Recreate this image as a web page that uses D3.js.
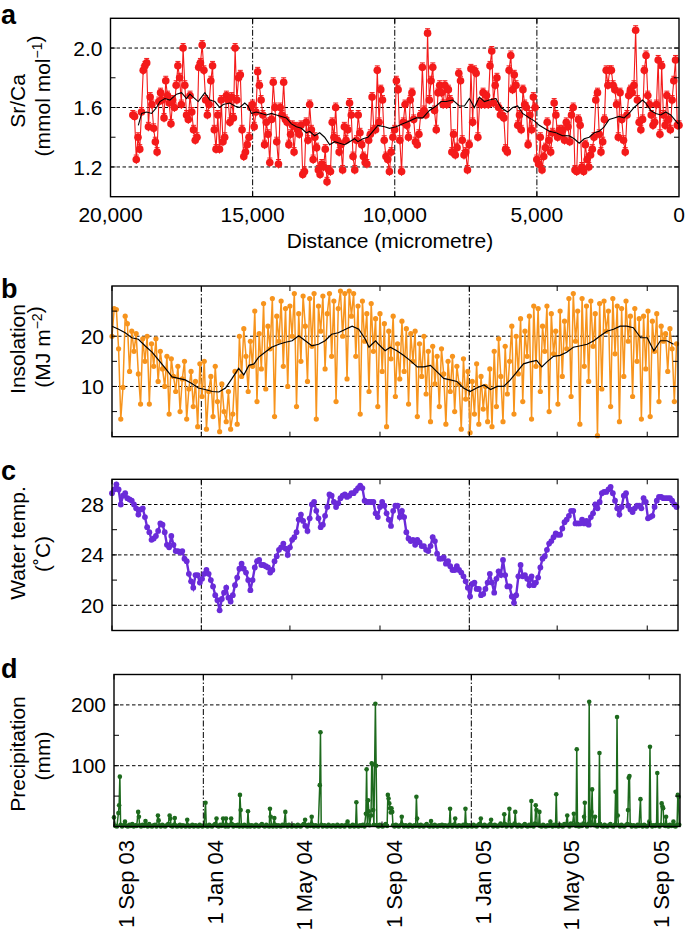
<!DOCTYPE html>
<html><head><meta charset="utf-8">
<script src="https://cdn.jsdelivr.net/npm/d3@7"></script>
<style>body{margin:0;background:#fff}svg{display:block}text{font-family:"Liberation Sans",Arial,Helvetica,sans-serif;fill:#000}</style>
</head><body><svg id="chart" width="685" height="930"></svg>
<script>
// ---------- DATA ----------
// Panel a: Sr/Ca (mmol/mol) vs distance (micrometre); distances listed ascending, values listed from 19,215 down to 0
const srcaDistanceAsc = [
0,61,122,183,244,305,366,427,488,549,610,671,732,793,854,915,976,1037,1098,1159,
1220,1281,1342,1403,1464,1525,1586,1647,1708,1769,1830,1891,1952,2013,2074,2135,2196,2257,2318,2379,
2440,2501,2562,2623,2684,2745,2806,2867,2928,2989,3050,3111,3172,3233,3294,3355,3416,3477,3538,3599,
3660,3721,3782,3843,3904,3965,4026,4087,4148,4209,4270,4331,4392,4453,4514,4575,4636,4697,4758,4819,
4880,4941,5002,5063,5124,5185,5246,5307,5368,5429,5490,5551,5612,5673,5734,5795,5856,5917,5978,6039,
6100,6161,6222,6283,6344,6405,6466,6527,6588,6649,6710,6771,6832,6893,6954,7015,7076,7137,7198,7259,
7320,7381,7442,7503,7564,7625,7686,7747,7808,7869,7930,7991,8052,8113,8174,8235,8296,8357,8418,8479,
8540,8601,8662,8723,8784,8845,8906,8967,9028,9089,9150,9211,9272,9333,9394,9455,9516,9577,9638,9699,
9760,9821,9882,9943,10004,10065,10126,10187,10248,10309,10370,10431,10492,10553,10614,10675,10736,10797,10858,10919,
10980,11041,11102,11163,11224,11285,11346,11407,11468,11529,11590,11651,11712,11773,11834,11895,11956,12017,12078,12139,
12200,12261,12322,12383,12444,12505,12566,12627,12688,12749,12810,12871,12932,12993,13054,13115,13176,13237,13298,13359,
13420,13481,13542,13603,13664,13725,13786,13847,13908,13969,14030,14091,14152,14213,14274,14335,14396,14457,14518,14579,
14640,14701,14762,14823,14884,14945,15006,15067,15128,15189,15250,15311,15372,15433,15494,15555,15616,15677,15738,15799,
15860,15921,15982,16043,16104,16165,16226,16287,16348,16409,16470,16531,16592,16653,16714,16775,16836,16897,16958,17019,
17080,17141,17202,17263,17324,17385,17446,17507,17568,17629,17690,17751,17812,17873,17934,17995,18056,18117,18178,18239,
18300,18361,18422,18483,18544,18605,18666,18727,18788,18849,18910,18971,19032,19093,19154,19215];
const srcaValue = [
1.55,1.54,1.25,1.40,1.32,1.57,1.85,1.88,1.90,1.47,1.67,1.62,1.46,1.37,1.30,1.64,1.70,1.65,1.53,1.78,
1.68,1.63,1.49,1.65,1.60,1.75,1.88,1.80,1.62,2.00,1.75,1.55,1.52,1.68,1.57,1.45,1.38,1.40,1.87,1.90,
2.02,1.85,1.65,1.55,1.62,1.78,1.88,1.45,1.32,1.55,1.32,1.65,1.37,1.40,1.68,1.65,1.50,1.67,1.53,2.00,
1.65,1.80,1.82,1.45,1.27,1.30,1.35,1.40,1.60,1.62,1.47,1.57,1.84,1.75,1.65,1.55,1.35,1.50,1.42,1.23,
1.52,1.77,1.60,1.37,1.22,1.60,1.55,1.77,1.52,1.50,1.35,1.42,1.48,1.30,1.47,1.45,1.42,1.48,1.15,1.17,
1.50,1.38,1.62,1.45,1.25,1.40,1.33,1.18,1.15,1.22,1.20,1.32,1.10,1.18,1.17,1.50,1.40,1.60,1.38,1.30,
1.35,1.18,1.47,1.38,1.45,1.63,1.55,1.27,1.18,1.38,1.55,1.43,1.35,1.27,1.23,1.22,1.38,1.42,1.67,1.45,
1.45,1.85,1.50,1.72,1.65,1.38,1.27,1.25,1.17,1.30,1.40,1.45,1.78,1.72,1.38,1.17,1.50,1.62,1.48,1.40,
1.65,1.70,1.52,1.37,1.35,1.42,1.55,1.87,1.58,1.55,2.10,1.65,1.78,1.87,1.58,1.45,1.70,1.75,1.70,1.62,
1.75,1.62,1.72,1.65,1.30,1.42,1.28,1.33,1.83,1.78,1.38,1.28,1.30,1.18,1.35,1.86,1.50,1.85,1.83,1.40,
1.63,1.62,1.70,1.62,1.68,1.62,1.88,1.98,1.63,1.75,1.80,1.60,1.55,1.55,1.53,1.32,1.30,1.85,1.95,1.72,
1.82,1.75,1.48,1.55,1.45,1.72,1.62,1.60,1.35,1.55,1.45,1.67,1.60,1.25,1.22,1.40,1.18,1.27,1.33,1.50,
1.38,1.30,1.43,1.63,1.55,1.40,1.45,1.42,1.45,1.38,1.50,1.47,1.37,1.55,1.60,1.18,1.17,1.52,1.48,1.20,
1.17,1.35,1.25,1.20,1.28,1.32,1.40,1.65,1.70,1.42,1.30,1.37,1.52,1.85,1.75,1.85,1.85,1.75,1.72,1.62,
1.40,1.70,1.52,1.38,1.30,1.55,1.68,1.72,1.70,1.75,2.12,1.65,1.50,1.45,1.52,1.85,1.95,1.68,1.62,1.55,
1.48,1.50,1.62,1.92,1.42,1.88,1.55,1.48,1.68,1.52,1.45,1.65,1.78,1.92,1.48,1.48];
const srcaErrorHalf = 0.03;
const srcaMeanDistance = [19022,18905,18730,18554,18378,18261,18086,17910,17676,17500,17325,17208,17032,16915,16798,16681,16505,16330,16154,16037,
15803,15627,15452,15276,15159,15042,14866,14691,14515,14340,14164,13988,13813,13637,13461,13286,13110,12993,12818,12642,
12467,12291,12115,11940,11764,11588,11413,11296,11120,10945,10769,10593,10359,10184,9950,9716,9481,9247,9013,8779,
8545,8369,8194,7959,7725,7550,7374,7199,7023,6847,6672,6438,6262,6028,5852,5677,5501,5267,5091,4916,
4740,4565,4330,4096,3862,3687,3511,3335,3160,2984,2808,2633,2457,2282,2106,1931,1755,1579,1404,1287,
1170,994,819,643,467,292,116,23];
const srcaMean = [1.48,1.56,1.57,1.56,1.60,1.64,1.66,1.65,1.69,1.70,1.66,1.69,1.66,1.64,1.67,1.70,1.65,1.64,1.60,1.62,
1.63,1.61,1.60,1.63,1.61,1.56,1.57,1.56,1.55,1.56,1.55,1.54,1.53,1.49,1.47,1.46,1.43,1.44,1.41,1.43,
1.40,1.35,1.37,1.36,1.35,1.37,1.39,1.37,1.39,1.40,1.44,1.48,1.47,1.46,1.47,1.49,1.51,1.53,1.53,1.58,
1.61,1.64,1.64,1.65,1.61,1.61,1.66,1.60,1.67,1.64,1.65,1.66,1.60,1.57,1.60,1.61,1.56,1.53,1.51,1.48,
1.46,1.44,1.43,1.41,1.41,1.39,1.36,1.39,1.40,1.43,1.44,1.47,1.52,1.53,1.54,1.53,1.56,1.60,1.63,1.65,
1.63,1.58,1.56,1.55,1.57,1.55,1.51,1.49];
const distanceTicks = [20000,15000,10000,5000,0];
const distanceGrid = [15000,10000,5000];

// Panels b-d: days since 1 Sep 2003
const startDateStr = "2003-09-01";
const endDateStr = "2005-10-13";
const sampleDay = [0,3,6,9,12,15,18,21,24,27,30,33,36,39,42,45,48,51,54,57,60,63,66,69,72,75,78,81,84,87,90,93,96,99,102,105,108,111,114,117,120,123,126,129,132,135,138,141,144,147,150,153,156,159,162,165,168,171,174,177,180,183,186,189,192,195,198,201,204,207,210,213,216,219,222,225,228,231,234,237,240,243,246,249,252,255,258,261,264,267,270,273,276,279,282,285,288,291,294,297,300,303,306,309,312,315,318,321,324,327,330,333,336,339,342,345,348,351,354,357,360,363,366,369,372,375,378,381,384,387,390,393,396,399,402,405,408,411,414,417,420,423,426,429,432,435,438,441,444,447,450,453,456,459,462,465,468,471,474,477,480,483,486,489,492,495,498,501,504,507,510,513,516,519,522,525,528,531,534,537,540,543,546,549,552,555,558,561,564,567,570,573,576,579,582,585,588,591,594,597,600,603,606,609,612,615,618,621,624,627,630,633,636,639,642,645,648,651,654,657,660,663,666,669,672,675,678,681,684,687,690,693,696,699,702,705,708,711,714,717,720,723,726,729,732,735,738,741,744,747,750,753,756,759,762,765,768,771];
const insolation = [
20.0,25.5,25.3,17.5,3.5,9.8,24.0,22.5,13.0,21.0, 17.0,20.5,12.5,6.5,19.5,15.0,20.0,6.5,18.5,14.0,
19.5,11.0,17.0,13.5,10.0,16.0,4.5,15.5,12.0,9.0, 14.0,5.0,11.5,15.0,3.5,9.5,13.0,6.0,11.0,2.0,
14.5,8.0,15.0,1.5,9.0,12.0,4.0,14.0,7.0,1.0, 10.5,5.0,3.0,9.0,1.5,4.5,13.0,2.5,20.0,12.0,
21.5,16.0,9.0,19.0,14.0,25.0,7.0,20.5,13.5,26.5, 9.5,22.0,17.5,27.5,4.0,24.0,19.0,27.0,14.0,25.5,
10.0,26.0,20.0,28.5,6.0,24.5,15.0,28.0,22.0,11.0, 27.5,18.0,28.5,3.5,26.0,21.0,28.0,13.5,24.5,28.5,
16.0,27.0,7.0,25.5,29.0,20.0,28.5,11.5,29.0,24.0, 28.5,16.0,26.0,4.5,27.0,19.0,24.5,9.0,26.5,17.0,
23.5,6.0,24.5,13.0,22.5,2.0,21.0,15.5,24.0,8.0, 18.5,11.5,23.0,13.0,21.5,6.5,20.5,15.0,21.0,4.0,
18.5,12.0,20.0,8.5,17.0,3.0,18.0,10.5,16.0,6.0, 17.5,12.5,2.5,15.0,9.0,16.0,5.0,14.0,10.5,1.5,
15.5,7.5,13.0,0.8,11.0,4.5,14.5,2.5,12.0,5.5, 10.0,3.0,13.5,2.0,17.0,6.0,19.5,12.0,3.0,18.0,
8.5,15.0,22.0,4.5,20.0,12.5,23.5,7.0,21.0,16.0, 24.0,3.5,26.0,14.0,25.5,9.0,22.0,17.0,26.0,5.0,
24.5,16.5,21.0,6.5,25.0,12.0,23.0,17.5,27.5,8.0, 28.5,19.0,25.0,2.5,27.5,14.0,26.0,11.0,27.0,18.0,
24.5,0.2,26.5,9.5,27.0,21.0,25.0,6.0,27.5,16.5, 26.0,3.0,25.5,12.0,27.0,19.0,24.0,8.0,25.5,15.0,
23.5,3.5,24.0,13.5,25.0,4.0,23.0,17.0,24.5,7.0, 22.0,19.0,20.5,13.0,21.5,17.5,7.0,18.5];
const insolMeanDay = [0,9,18,27,36,45,55,64,73,82,91,100,109,118,127,137,146,155,164,173,180,187,194,200,209,218,228,237,246,255,264,273,282,291,300,309,319,328,337,346,351,355,360,364,373,380,389,398,407,417,426,435,444,453,462,471,480,489,498,508,517,526,535,544,553,562,571,580,587,594,603,612,621,630,640,649,658,667,676,685,694,703,712,722,731,740,749,758,767];
const insolMean = [22.0,21.4,20.7,19.7,19.4,18.1,16.8,15.2,13.6,11.9,11.6,11.3,10.6,9.7,9.4,9.0,8.9,9.7,11.6,13.6,12.3,14.2,14.5,15.8,16.8,17.8,18.4,18.8,19.1,20.1,19.1,18.1,18.4,19.1,20.4,20.7,21.4,22.0,21.4,19.4,17.8,18.4,19.1,18.4,17.1,17.8,17.1,16.2,15.2,13.9,13.9,14.2,12.9,11.6,11.3,11.0,9.7,9.0,9.7,10.3,9.4,10.0,10.0,11.3,12.9,14.5,14.9,15.2,13.9,14.9,16.0,16.2,16.8,17.8,18.1,18.4,19.1,20.1,21.0,21.4,22.0,22.0,21.7,19.7,19.7,17.1,19.1,19.1,18.4];
const waterTemp = [
28.9,29.2,29.6,29.2,28.0,28.7,28.9,28.5,28.4,28.3, 28.0,27.7,27.2,27.6,27.7,27.0,26.2,25.8,25.2,25.3,
25.5,25.9,26.5,26.4,25.8,24.8,24.6,25.5,24.8,24.3, 24.3,24.2,24.3,23.7,23.5,22.5,21.9,21.4,22.4,22.4,
21.8,22.1,22.5,22.8,22.5,22.0,21.5,20.8,20.4,19.6, 20.5,21.0,21.4,20.6,20.3,20.8,21.6,22.2,22.9,23.3,
22.9,22.6,22.0,21.2,22.0,23.0,23.5,23.6,23.2,23.2, 23.1,23.0,22.6,22.8,23.5,23.9,24.4,24.6,24.9,24.5,
24.0,24.6,25.2,25.4,25.8,26.8,27.2,26.7,26.3,25.9, 26.9,28.0,28.2,27.5,26.9,26.2,26.4,27.1,27.8,28.8,
28.7,28.2,27.8,28.1,28.5,28.7,28.8,28.6,28.7,28.9, 28.9,29.1,29.3,29.5,29.3,28.3,28.2,28.2,28.2,28.2,
27.3,27.0,27.8,28.2,27.9,27.3,26.8,26.3,27.5,27.9, 27.9,27.0,27.5,27.0,25.8,25.3,25.1,25.2,24.8,25.2,
25.0,24.7,24.7,24.4,24.3,24.7,25.4,25.1,24.1,23.7, 23.7,23.8,23.3,23.5,23.1,22.8,22.8,23.1,22.8,22.6,
22.3,21.9,21.4,20.7,21.7,21.8,21.3,21.3,20.8,20.9, 21.3,21.8,22.5,21.8,21.0,22.1,22.7,22.4,23.6,22.4,
21.5,21.5,20.7,20.2,20.8,22.3,23.2,22.3,22.4,22.1, 21.6,22.3,21.6,21.8,22.2,23.0,23.7,23.9,24.4,24.9,
25.1,25.4,25.7,25.6,25.6,26.1,26.6,26.8,27.1,27.5, 27.5,26.5,26.5,26.5,26.8,26.5,26.7,26.4,27.0,27.3,
28.0,27.7,28.2,28.9,29.0,29.0,29.2,29.4,28.9,28.3, 27.7,27.2,27.8,28.7,28.9,27.9,27.6,27.4,27.7,27.9,
27.9,27.7,28.5,28.2,26.9,27.0,27.1,27.8,28.3,28.6, 28.6,28.5,28.5,28.5,28.5,28.3,28.0,27.8];
const precipDay = [
0,2,4,6,7,8,9,11,13,15, 17,19,21,23,25,27,29,31,33,34, 35,37,39,41,43,44,46,48,50,52, 54,56,58,60,61,62,64,66,68,70,
72,74,76,77,78,80,82,83,84,86, 88,90,92,94,96,98,100,101,103,105, 107,109,111,113,115,117,119,121,123,125, 126,128,130,132,134,136,138,140,141,143,
145,147,149,150,152,153,154,156,158,160, 161,163,165,167,169,171,172,173,174,176, 178,180,182,183,184,186,188,190,192,194, 196,198,200,202,204,206,208,210,212,213,
214,215,217,219,220,222,224,226,228,230, 232,234,235,237,239,241,243,245,247,249, 251,253,255,257,259,261,262,264,266,268, 270,271,273,275,277,279,281,282,283,285,
287,289,291,293,295,297,299,301,303,305, 307,309,311,313,315,317,319,320,322,324, 326,328,330,331,332,334,336,338,340,342, 344,345,346,347,348,349,351,352,353,354,
355,357,358,359,361,363,365,367,369,371, 373,374,375,376,377,378,379,380,381,383, 385,387,389,391,393,394,396,398,400,402, 404,406,408,410,412,413,414,415,417,419,
421,423,425,427,429,431,433,434,436,438, 440,442,444,446,448,450,452,454,456,458, 459,460,462,464,466,467,469,471,473,475, 477,479,480,481,483,485,487,489,491,493,
495,497,499,501,502,504,506,508,510,512, 514,515,516,518,520,522,524,526,528,530, 532,533,534,536,538,540,541,543,545,547, 548,549,551,553,555,557,559,561,563,565,
567,569,570,571,573,575,576,577,578,580, 581,582,584,586,588,590,592,594,596,597, 599,601,603,604,605,607,609,611,613,615, 617,619,620,622,624,626,628,629,631,632,
633,635,637,639,641,642,643,644,646,648, 649,650,651,652,653,654,656,657,658,660, 662,663,664,666,668,670,672,674,676,678, 680,682,684,685,686,687,688,689,691,693,
695,697,699,701,702,703,704,705,707,709, 711,713,715,717,719,720,722,724,726,728, 730,731,732,733,735,737,739,741,742,743, 745,747,748,749,750,751,753,754,755,757,
759,761,763,764,765,767,769,770,771,772];
const precipMm = [
15,1,0,22,35,82,3,0,2,8, 1,0,3,1,4,0,2,1,24,16, 2,0,3,1,9,2,0,4,1,0, 2,3,0,18,10,2,0,3,1,0,
2,4,18,13,1,0,3,14,2,0, 1,3,0,2,1,0,11,2,0,1, 3,0,2,1,0,3,1,0,2,39, 1,0,3,1,0,2,4,13,1,0,
3,1,13,2,0,13,3,0,2,13, 4,0,2,1,3,0,52,27,2,0, 3,1,0,25,3,0,2,1,0,3, 1,0,2,4,1,0,3,1,0,29,
16,2,0,14,3,0,2,1,0,3, 1,24,2,0,3,1,0,2,1,0, 3,1,0,2,4,11,2,0,3,1, 16,3,0,2,1,0,68,155,3,0,
2,1,0,3,1,0,2,1,0,3, 1,0,2,1,0,3,8,2,0,1, 3,0,2,40,1,0,2,1,3,0, 21,94,3,43,25,2,18,104,102,27,
3,202,100,2,0,3,1,0,2,4, 1,52,46,38,30,23,30,24,2,0, 3,1,0,2,16,3,0,2,1,0, 3,1,0,2,1,49,13,2,0,3,
1,0,2,4,1,0,9,2,0,3, 1,0,2,1,3,0,2,1,0,3, 29,2,0,3,13,1,0,2,1,0, 3,1,29,3,0,2,1,0,3,1,
0,2,4,13,2,0,3,1,0,2, 4,11,2,0,3,1,0,2,5,1, 3,20,4,0,2,29,3,0,2,5, 24,2,0,3,1,0,2,4,1,0,
3,1,42,3,0,5,35,27,3,2, 24,1,0,3,1,0,2,1,8,2, 0,3,1,53,2,0,3,1,0,4, 2,18,3,0,5,2,21,3,1,127,
4,0,3,1,5,16,39,3,0,4, 205,8,2,24,61,3,2,16,2,0, 3,121,4,1,0,3,1,0,2,4, 1,0,3,57,2,180,18,2,0,3,
1,0,2,4,27,80,83,3,0,2, 1,0,3,1,45,2,0,3,1,0, 2,8,131,3,0,2,1,3,88,2, 0,3,38,33,30,2,1,16,2,0,
3,1,2,8,1,0,3,52,49,3];
const dateTicks = ["2003-09-01","2004-01-01","2004-05-01","2004-09-01","2005-01-01","2005-05-01","2005-09-01"];
const dateTickLabels = ["1 Sep 03","1 Jan 04","1 May 04","1 Sep 04","1 Jan 05","1 May 05","1 Sep 05"];
const dateGrid = ["2004-01-01","2005-01-01"];

// ---------- CHECKS ----------
const srcaDistance = srcaDistanceAsc.slice().reverse();
[[srcaDistance,srcaValue,"srca"],[srcaMeanDistance,srcaMean,"srcaMean"],[sampleDay,insolation,"insol"],[sampleDay,waterTemp,"temp"],[insolMeanDay,insolMean,"insolMean"],[precipDay,precipMm,"precip"]]
 .forEach(([a,b,n])=>{ if(a.length!==b.length) throw new Error(n+" length mismatch "+a.length+" vs "+b.length); });

// ---------- DRAW ----------
const svg = d3.select("#chart");
const parse = d3.timeParse("%Y-%m-%d");
const start = parse(startDateStr), end = parse(endDateStr);
const dayToDate = d => d3.timeDay.offset(start, d);

const boxA = {l:110.5, r:679, t:18.3, b:196.7};
const boxB = {l:112, r:678, t:286, b:436.7};
const boxC = {l:112, r:678, t:479.3, b:630.5};
const boxD = {l:114, r:680, t:674.5, b:826.5};

const FS = 21;

function hGrid(box, y, vals){
  svg.append("g").selectAll("line").data(vals).join("line")
    .attr("x1",box.l).attr("x2",box.r).attr("y1",d=>y(d)).attr("y2",d=>y(d))
    .attr("stroke","#000").attr("stroke-width",1).attr("stroke-dasharray","3.5,2.5");
}
function vGrid(box, x, vals){
  svg.append("g").selectAll("line").data(vals).join("line")
    .attr("y1",box.t).attr("y2",box.b).attr("x1",d=>x(d)).attr("x2",d=>x(d))
    .attr("stroke","#000").attr("stroke-width",1).attr("stroke-dasharray","6,2,1.5,2");
}
function frame(box){
  svg.append("rect").attr("x",box.l).attr("y",box.t).attr("width",box.r-box.l).attr("height",box.b-box.t)
    .attr("fill","none").attr("stroke","#000").attr("stroke-width",1.4);
}
function yTicks(box, y, vals){
  const g = svg.append("g").attr("stroke","#000").attr("stroke-width",1);
  g.selectAll("line.l").data(vals).join("line").attr("class","l")
    .attr("x1",box.l).attr("x2",box.l+5).attr("y1",d=>y(d)).attr("y2",d=>y(d));
  g.selectAll("line.r").data(vals).join("line").attr("class","r")
    .attr("x1",box.r).attr("x2",box.r-5).attr("y1",d=>y(d)).attr("y2",d=>y(d));
}
function xTicks(box, x, vals){
  const g = svg.append("g").attr("stroke","#000").attr("stroke-width",1);
  g.selectAll("line.t").data(vals).join("line").attr("class","t")
    .attr("y1",box.t).attr("y2",box.t+5).attr("x1",d=>x(d)).attr("x2",d=>x(d));
  g.selectAll("line.b").data(vals).join("line").attr("class","b")
    .attr("y1",box.b).attr("y2",box.b-5).attr("x1",d=>x(d)).attr("x2",d=>x(d));
}
function yLabels(box, y, vals, fmt){
  svg.append("g").selectAll("text").data(vals).join("text")
    .attr("x",box.l-8).attr("y",d=>y(d)).attr("dy","0.36em").attr("text-anchor","end")
    .attr("font-size",FS).text(fmt);
}
function yTitle(x, yc, parts){
  const t = svg.append("text").attr("transform",`translate(${x},${yc}) rotate(-90)`)
    .attr("text-anchor","middle").attr("font-size",FS);
  parts.forEach(p=>{
    if(p.sup){ t.append("tspan").attr("dy",-8).attr("font-size",14).text(p.sup);
               t.append("tspan").attr("dy",8).text(""); }
    else t.append("tspan").text(p.t);
  });
}
function letter(s, x, y){
  svg.append("text").attr("x",x).attr("y",y).attr("font-size",27).attr("font-weight","bold").text(s);
}

// ---- Panel a ----
const xA = d3.scaleLinear().domain([20000,0]).range([boxA.l, boxA.r]);
const yA = d3.scaleLinear().domain([1.0,2.2]).range([boxA.b, boxA.t]);
hGrid(boxA, yA, [1.2,1.6,2.0]);
vGrid(boxA, xA, distanceGrid);
const srca = srcaDistance.map((d,i)=>({d, v:srcaValue[i]}));
const RED = "#f41a1a";
svg.append("path").datum(srca).attr("fill","none").attr("stroke",RED).attr("stroke-width",1.1)
  .attr("d", d3.line().x(p=>xA(p.d)).y(p=>yA(p.v)));
const eb = svg.append("g").attr("stroke",RED).attr("stroke-width",1);
eb.selectAll("line.v").data(srca).join("line").attr("class","v")
  .attr("x1",p=>xA(p.d)).attr("x2",p=>xA(p.d)).attr("y1",p=>yA(p.v+srcaErrorHalf)).attr("y2",p=>yA(p.v-srcaErrorHalf));
eb.selectAll("line.c").data(srca).join("line").attr("class","c")
  .attr("x1",p=>xA(p.d)-2.5).attr("x2",p=>xA(p.d)+2.5).attr("y1",p=>yA(p.v+srcaErrorHalf)).attr("y2",p=>yA(p.v+srcaErrorHalf));
svg.append("g").selectAll("circle").data(srca).join("circle")
  .attr("cx",p=>xA(p.d)).attr("cy",p=>yA(p.v)).attr("r",3.8).attr("fill",RED);
svg.append("path").datum(srcaMeanDistance.map((d,i)=>({d, v:srcaMean[i]})))
  .attr("fill","none").attr("stroke","#000").attr("stroke-width",1.1)
  .attr("d", d3.line().x(p=>xA(p.d)).y(p=>yA(p.v)));
frame(boxA);
yTicks(boxA, yA, [1.2,1.4,1.6,1.8,2.0]);
xTicks(boxA, xA, distanceGrid);
yLabels(boxA, yA, [1.2,1.6,2.0], d3.format(".1f"));
svg.append("g").selectAll("text").data(distanceTicks).join("text")
  .attr("x",d=>xA(d)).attr("y",222).attr("text-anchor","middle").attr("font-size",FS)
  .text(d3.format(","));
svg.append("text").attr("x",390).attr("y",248).attr("text-anchor","middle").attr("font-size",FS)
  .text("Distance (micrometre)");
yTitle(25, 101, [{t:"Sr/Ca"}]);
yTitle(50, 96, [{t:"(mmol mol"},{sup:"\u22121"},{t:")"}]);
letter("a", 1, 24);

// ---- time scale shared ----
const tickDates = dateTicks.map(parse);
const gridDates = dateGrid.map(parse);

// ---- Panel b ----
const xB = d3.scaleTime().domain([start,end]).range([boxB.l, boxB.r]);
const yB = d3.scaleLinear().domain([0,30]).range([boxB.b, boxB.t]);
hGrid(boxB, yB, [10,20]);
vGrid(boxB, xB, gridDates);
const ORANGE = "#f7941d";
const insol = sampleDay.map((d,i)=>({t:dayToDate(d), v:insolation[i]}));
svg.append("path").datum(insol).attr("fill","none").attr("stroke",ORANGE).attr("stroke-width",1.5)
  .attr("d", d3.line().x(p=>xB(p.t)).y(p=>yB(p.v)));
svg.append("g").selectAll("circle").data(insol).join("circle")
  .attr("cx",p=>xB(p.t)).attr("cy",p=>yB(p.v)).attr("r",2.6).attr("fill",ORANGE);
svg.append("path").datum(insolMeanDay.map((d,i)=>({t:dayToDate(d), v:insolMean[i]})))
  .attr("fill","none").attr("stroke","#000").attr("stroke-width",1.2)
  .attr("d", d3.line().x(p=>xB(p.t)).y(p=>yB(p.v)));
frame(boxB);
yTicks(boxB, yB, [5,10,15,20,25]);
xTicks(boxB, xB, tickDates);
yLabels(boxB, yB, [10,20], d3.format("d"));
yTitle(25, 349, [{t:"Insolation"}]);
yTitle(50, 347, [{t:"(MJ m"},{sup:"\u22122"},{t:")"}]);
letter("b", 1, 298);

// ---- Panel c ----
const xC = d3.scaleTime().domain([start,end]).range([boxC.l, boxC.r]);
const yC = d3.scaleLinear().domain([18,30]).range([boxC.b, boxC.t]);
hGrid(boxC, yC, [20,24,28]);
vGrid(boxC, xC, gridDates);
const PURPLE = "#6a2bd9";
const temp = sampleDay.map((d,i)=>({t:dayToDate(d), v:waterTemp[i]}));
svg.append("path").datum(temp).attr("fill","none").attr("stroke",PURPLE).attr("stroke-width",2.4)
  .attr("d", d3.line().x(p=>xC(p.t)).y(p=>yC(p.v)));
svg.append("g").selectAll("circle").data(temp).join("circle")
  .attr("cx",p=>xC(p.t)).attr("cy",p=>yC(p.v)).attr("r",2.9).attr("fill",PURPLE);
frame(boxC);
yTicks(boxC, yC, [20,22,24,26,28]);
xTicks(boxC, xC, tickDates);
yLabels(boxC, yC, [20,24,28], d3.format("d"));
yTitle(25, 543, [{t:"Water temp."}]);
yTitle(50, 554, [{t:"(\u02DAC)"}]);
letter("c", 1, 480);

// ---- Panel d ----
const xD = d3.scaleTime().domain([start,end]).range([boxD.l, boxD.r]);
const yD = d3.scaleLinear().domain([0,250]).range([boxD.b, boxD.t]);
hGrid(boxD, yD, [100,200]);
vGrid(boxD, xD, gridDates);
const GREEN = "#1d6a1d";
const prec = precipDay.map((d,i)=>({t:dayToDate(d), v:precipMm[i]}));
svg.append("path").datum(prec).attr("fill","none").attr("stroke",GREEN).attr("stroke-width",1.5)
  .attr("d", d3.line().x(p=>xD(p.t)).y(p=>yD(p.v)));
svg.append("g").selectAll("circle").data(prec).join("circle")
  .attr("cx",p=>xD(p.t)).attr("cy",p=>yD(p.v)).attr("r",2.3).attr("fill",GREEN);
frame(boxD);
yTicks(boxD, yD, [50,100,150,200]);
xTicks(boxD, xD, tickDates);
yLabels(boxD, yD, [100,200], d3.format("d"));
yTitle(25, 754, [{t:"Precipitation"}]);
yTitle(50, 756, [{t:"(mm)"}]);
letter("d", 1, 678);

// date labels
svg.append("g").selectAll("text").data(tickDates).join("text")
  .attr("transform",d=>`translate(${xD(d)+12},840) rotate(-90)`)
  .attr("text-anchor","end").attr("dy","0.36em").attr("font-size",22)
  .text((d,i)=>dateTickLabels[i]);
</script></body></html>
